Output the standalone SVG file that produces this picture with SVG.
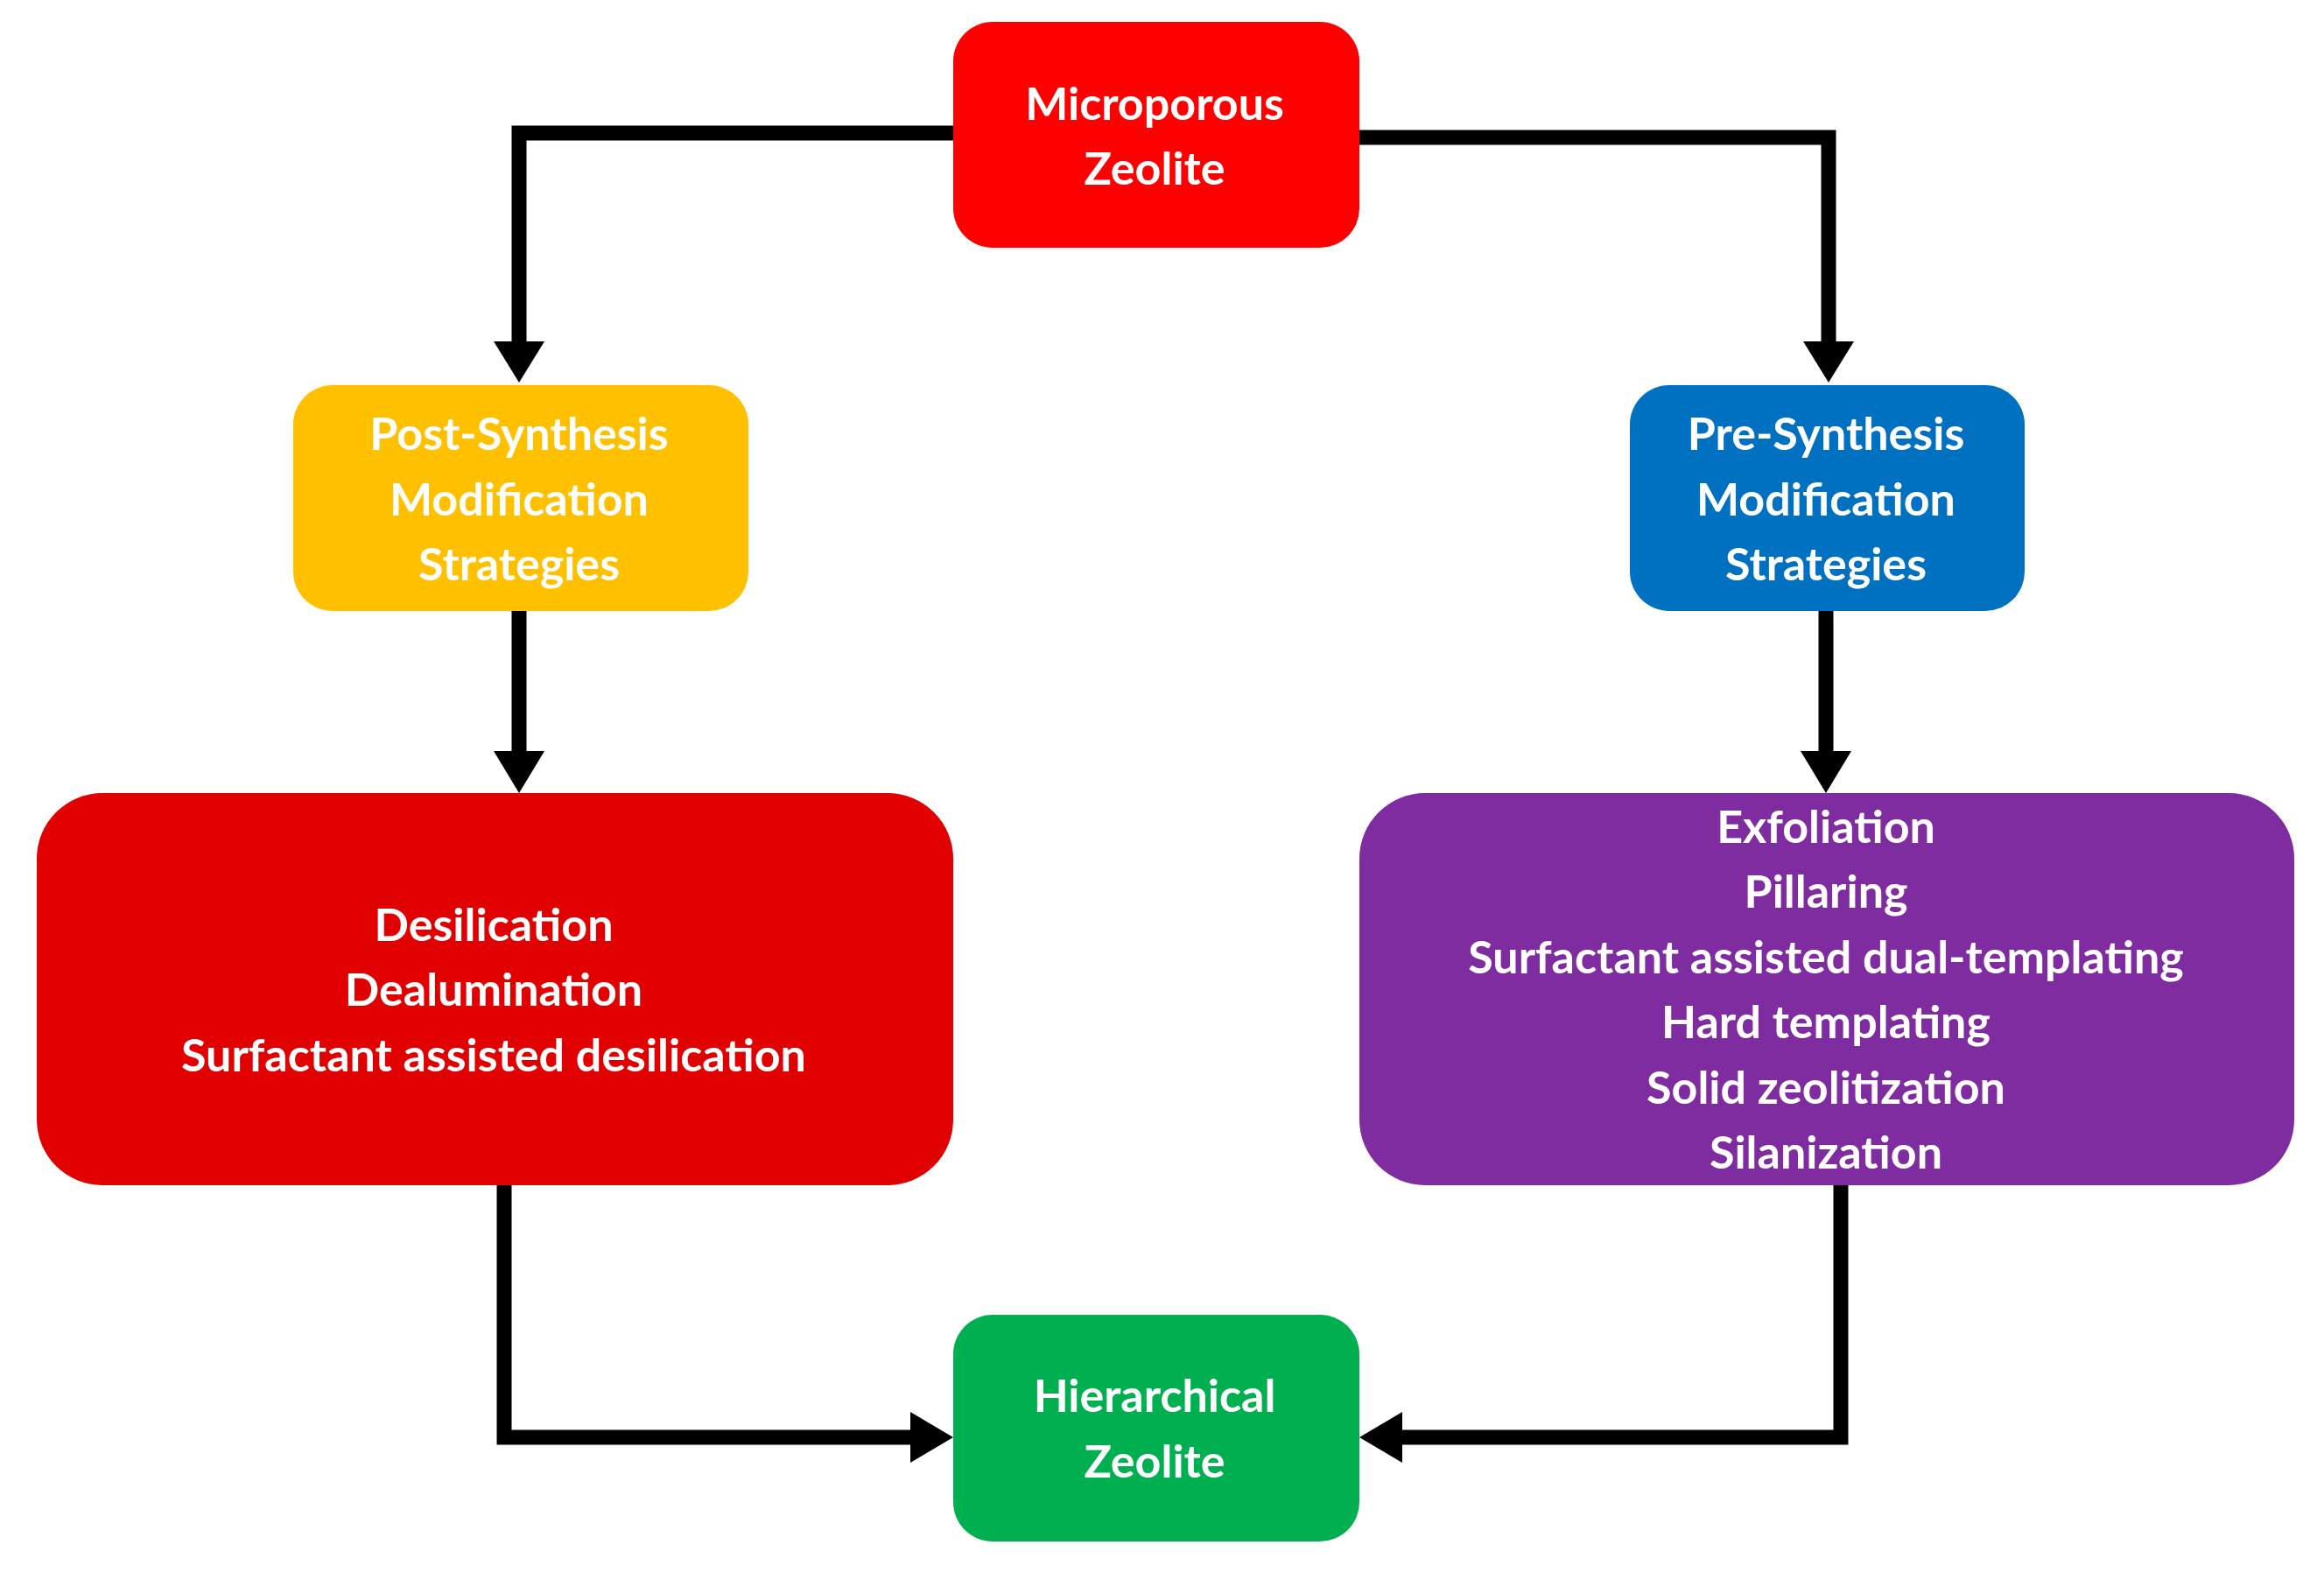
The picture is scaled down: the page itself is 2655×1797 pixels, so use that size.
<svg xmlns="http://www.w3.org/2000/svg" width="2655" height="1797" viewBox="0 0 2655 1797">
<style>
.t{font-family:Lato,"Open Sans",sans-serif;font-weight:bold;font-size:52px;fill:#fff;text-anchor:middle;dominant-baseline:central}
.c{fill:none;stroke:#000;stroke-width:17}
.a{fill:#000}
</style>
<rect width="2655" height="1797" fill="#fff"/>
<g id="connectors">
<polyline class="c" points="1089,152 593,152 593,395"/>
<polygon class="a" points="564,390 622,390 593,437"/>
<polyline class="c" points="1553,157 2089,157 2089,395"/>
<polygon class="a" points="2060,390 2118,390 2089,437"/>
<line class="c" x1="593" y1="698" x2="593" y2="862"/>
<polygon class="a" points="564,858 622,858 593,906"/>
<line class="c" x1="2086" y1="698" x2="2086" y2="862"/>
<polygon class="a" points="2057,858 2115,858 2086,906"/>
<polyline class="c" points="576,1354 576,1642 1045,1642"/>
<polygon class="a" points="1040,1613 1040,1671 1089,1642"/>
<polyline class="c" points="2103,1354 2103,1642 1597,1642"/>
<polygon class="a" points="1602,1613 1602,1671 1553,1642"/>
</g>
<g id="micro"><rect x="1089" y="25" width="464" height="258" rx="45" fill="#FF0000"/>
<text class="t" x="1319" y="117">Microporous</text><text class="t" x="1319" y="191">Zeolite</text></g>
<g id="post"><rect x="335" y="440" width="520" height="258" rx="45" fill="#FFC000"/>
<text class="t" x="593" y="494">Post-Synthesis</text><text class="t" x="593" y="569">Modification</text><text class="t" x="593" y="643">Strategies</text></g>
<g id="pre"><rect x="1862" y="440" width="451" height="258" rx="45" fill="#0070C0"/>
<text class="t" x="2086" y="494">Pre-Synthesis</text><text class="t" x="2086" y="569">Modification</text><text class="t" x="2086" y="643">Strategies</text></g>
<g id="postmethods"><rect x="42" y="906" width="1047" height="448" rx="75" fill="#E00000"/>
<text class="t" x="564" y="1055">Desilication</text><text class="t" x="564" y="1129">Dealumination</text><text class="t" x="564" y="1204">Surfactant assisted desilication</text></g>
<g id="premethods"><rect x="1553" y="906" width="1068" height="448" rx="75" fill="#7F2CA1"/>
<text class="t" x="2086" y="943">Exfoliation</text><text class="t" x="2086" y="1017">Pillaring</text><text class="t" x="2086" y="1092">Surfactant assisted dual-templating</text><text class="t" x="2086" y="1166">Hard templating</text><text class="t" x="2086" y="1241">Solid zeolitization</text><text class="t" x="2086" y="1315">Silanization</text></g>
<g id="hier"><rect x="1089" y="1502" width="464" height="259" rx="45" fill="#00B050"/>
<text class="t" x="1319" y="1593">Hierarchical</text><text class="t" x="1319" y="1668">Zeolite</text></g>
</svg>
